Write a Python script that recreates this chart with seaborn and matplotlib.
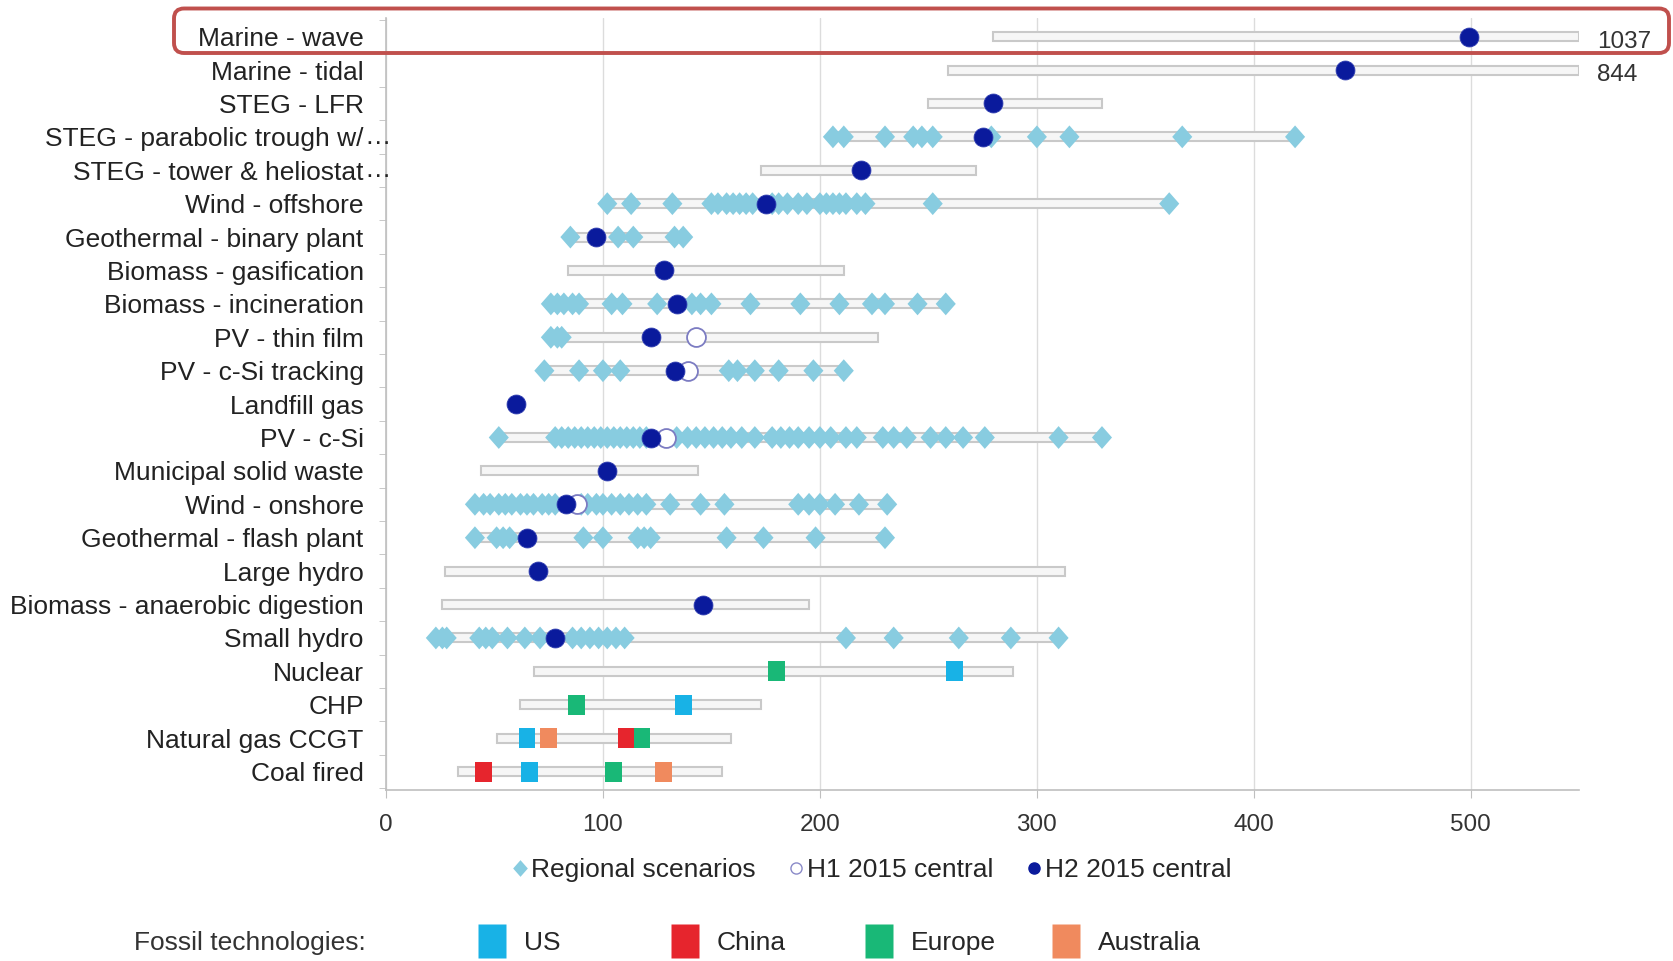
import numpy as np
import pandas as pd
import seaborn as sns
import matplotlib.pyplot as plt
from matplotlib.lines import Line2D
from matplotlib.path import Path
from matplotlib.patches import FancyBboxPatch

# technologies, top to bottom
tech = ["Marine - wave", "Marine - tidal", "STEG - LFR", "STEG - parabolic trough w/",
        "STEG - tower & heliostat", "Wind - offshore", "Geothermal - binary plant",
        "Biomass - gasification", "Biomass - incineration", "PV - thin film",
        "PV - c-Si tracking", "Landfill gas", "PV - c-Si", "Municipal solid waste",
        "Wind - onshore", "Geothermal - flash plant", "Large hydro",
        "Biomass - anaerobic digestion", "Small hydro", "Nuclear", "CHP",
        "Natural gas CCGT", "Coal fired"]
truncated = ["STEG - parabolic trough w/", "STEG - tower & heliostat"]

nan = np.nan
range_lo = [280, 259, 250, 206, 173, 102, 85, 84, 76, 76, 73, nan, 52, 44,
            41, 41, 27, 26, 23, 68, 62, 51, 33]
range_hi = [550, 550, 330, 419, 272, 361, 137, 211, 258, 227, 211, nan, 330, 144,
            231, 230, 313, 195, 310, 289, 173, 159, 155]
h2_central = [499, 442, 280, 275, 219, 175, 97, 128, 134, 122, 133, 60, 122, 102,
              83, 65, 70, 146, 78, nan, nan, nan, nan]

h1_tech = ["PV - thin film", "PV - c-Si tracking", "PV - c-Si", "Wind - onshore"]
h1_central = [143, 139, 129, 88]

offscale_tech = ["Marine - wave", "Marine - tidal"]
offscale_val = [1037, 844]

# regional scenarios
sc_parabolic = [206, 211, 230, 243, 247, 252, 279, 300, 315, 367, 419]
sc_offshore = [102, 113, 132, 150, 153, 157, 160, 163, 166, 169, 178, 181, 185, 190,
               194, 200, 203, 206, 209, 212, 217, 221, 252, 361]
sc_binary = [85, 107, 114, 133, 137]
sc_incineration = [76, 79, 82, 86, 89, 104, 109, 125, 141, 145, 150, 168, 191, 209,
                   224, 230, 245, 258]
sc_thinfilm = [76, 79, 81]
sc_csi_tracking = [73, 89, 100, 108, 158, 162, 170, 181, 197, 211]
sc_csi = [52, 78, 81, 84, 87, 90, 93, 96, 99, 102, 105, 108, 111, 114, 117, 120, 134,
          139, 143, 147, 151, 155, 159, 164, 170, 178, 182, 186, 190, 195, 200, 205,
          212, 217, 229, 234, 240, 251, 258, 266, 276, 310, 330]
sc_onshore = [41, 45, 48, 52, 55, 58, 62, 65, 68, 72, 75, 78, 90, 93, 97, 100, 104,
              108, 112, 116, 120, 131, 145, 156, 190, 195, 200, 207, 218, 231]
sc_flash = [41, 51, 54, 57, 91, 100, 116, 119, 122, 157, 174, 198, 230]
sc_small_hydro = [23, 26, 28, 43, 46, 49, 56, 64, 71, 86, 90, 94, 98, 102, 106, 110,
                  212, 234, 264, 288, 310]

# fossil technologies
fossil_tech = ["Nuclear", "Nuclear", "CHP", "CHP", "Natural gas CCGT", "Natural gas CCGT",
               "Natural gas CCGT", "Natural gas CCGT", "Coal fired", "Coal fired",
               "Coal fired", "Coal fired"]
fossil_region = ["Europe", "US", "Europe", "US", "US", "Australia", "China", "Europe",
                 "China", "US", "Europe", "Australia"]
fossil_val = [180, 262, 88, 137, 65, 75, 111, 118, 45, 66, 105, 128]

regions = ["US", "China", "Europe", "Australia"]
region_colors = {"US": "#18B2E6", "China": "#E6252D", "Europe": "#19B877", "Australia": "#F08A5E"}

pos = {t: i for i, t in enumerate(tech)}

scen = pd.concat([
    pd.DataFrame({"tech": t, "value": v}) for t, v in [
        (tech[3], sc_parabolic), (tech[5], sc_offshore), (tech[6], sc_binary),
        (tech[8], sc_incineration), (tech[9], sc_thinfilm), (tech[10], sc_csi_tracking),
        (tech[12], sc_csi), (tech[14], sc_onshore), (tech[15], sc_flash),
        (tech[18], sc_small_hydro)]
], ignore_index=True)
scen["y"] = scen["tech"].map(pos)

ranges = pd.DataFrame({"tech": tech, "lo": range_lo, "hi": range_hi, "h2": h2_central})
ranges["y"] = ranges["tech"].map(pos)
h1 = pd.DataFrame({"tech": h1_tech, "value": h1_central})
h1["y"] = h1["tech"].map(pos)
fossil = pd.DataFrame({"tech": fossil_tech, "region": fossil_region, "value": fossil_val})
fossil["y"] = fossil["tech"].map(pos)

sns.set_style("white")
plt.rcParams["font.family"] = ["Liberation Sans", "DejaVu Sans"]

diamond = Path([(0, 0.5), (0.44, 0), (0, -0.5), (-0.44, 0), (0, 0.5)])
rect = Path([(-0.42, -0.5), (0.42, -0.5), (0.42, 0.5), (-0.42, 0.5), (-0.42, -0.5)])

fig = plt.figure(figsize=(16.73, 9.61), dpi=100)
ax = fig.add_axes([0.2307, 0.178, 0.7133, 0.803])

rb = ranges.dropna(subset=["lo"])
ax.barh(rb["y"], rb["hi"] - rb["lo"], left=rb["lo"], height=0.27,
        color="#F6F6F6", edgecolor="#C9C9C9", linewidth=1.5, zorder=2)

sns.scatterplot(data=scen, x="value", y="y", marker=diamond, s=270, color="#88CCE0",
                edgecolor="none", ax=ax, zorder=3, legend=False)
sns.scatterplot(data=fossil, x="value", y="y", hue="region", palette=region_colors,
                marker=rect, s=210, edgecolor="none", ax=ax, zorder=3, legend=False)
sns.scatterplot(data=h1, x="value", y="y", marker="o", s=185, color="white",
                edgecolor="#7C7CC2", linewidth=1.3, ax=ax, zorder=4, legend=False)
sns.scatterplot(data=ranges.dropna(subset=["h2"]), x="h2", y="y", marker="o", s=185,
                color="#0A1A9C", edgecolor="#2E3CB0", linewidth=0.6, ax=ax, zorder=5,
                legend=False)

for t, v in zip(offscale_tech, offscale_val):
    ax.text(558, pos[t] + 0.15, str(v), fontsize=17.5, color="#333333",
            va="center", ha="left", clip_on=False)

# ellipsis of the truncated category labels hangs past the label column
for t in truncated:
    ax.text(-0.0185, pos[t], "\u2026", transform=ax.get_yaxis_transform(),
            fontsize=19, color="#222222", va="center", ha="left", clip_on=False)

ax.set_xlim(0, 550)
ax.set_ylim(len(tech) - 0.45, -0.55)
ax.set_xticks([0, 100, 200, 300, 400, 500])
ax.set_yticks(range(len(tech)))
ax.set_yticklabels(tech)
ax.set_yticks(np.arange(-0.5, len(tech), 1), minor=True)
ax.set_xlabel("")
ax.set_ylabel("")
ax.xaxis.grid(True, color="#DCDCDC", linewidth=1)
ax.set_axisbelow(True)
for side in ["top", "right"]:
    ax.spines[side].set_visible(False)
for side in ["left", "bottom"]:
    ax.spines[side].set_color("#BFBFBF")
    ax.spines[side].set_linewidth(1.2)
ax.tick_params(axis="y", which="major", length=0, pad=16, labelsize=19, labelcolor="#222222")
ax.tick_params(axis="y", which="minor", length=5, color="#BFBFBF", left=True)
ax.tick_params(axis="x", length=6, color="#BFBFBF", bottom=True, pad=11,
               labelsize=17.5, labelcolor="#333333")

# legend: markers
handles = [
    Line2D([], [], ls="", marker=diamond, markersize=12, color="#88CCE0", mec="none"),
    Line2D([], [], ls="", marker="o", markersize=8, mfc="white", mec="#8A8AC8"),
    Line2D([], [], ls="", marker="o", markersize=8, color="#0A1A9C"),
]
fig.legend(handles, ["Regional scenarios", "H1 2015 central", "H2 2015 central"],
           loc="center left", bbox_to_anchor=(0.3078, 0.0947), ncol=3, frameon=False,
           fontsize=19, handlelength=0.4, handletextpad=0.2, columnspacing=1.35,
           borderpad=0, borderaxespad=0)

# legend: fossil technologies
fig.text(0.0801, 0.0185, "Fossil technologies:", fontsize=19, color="#333333",
         va="center", ha="left")
for r, xl in zip(regions, [0.288, 0.403, 0.519, 0.631]):
    h = Line2D([], [], ls="", marker=rect, markersize=24, color=region_colors[r], mec="none")
    fig.legend([h], [r], loc="center left", bbox_to_anchor=(xl, 0.0185), frameon=False,
               fontsize=19, handlelength=0.8, handletextpad=0.8, borderpad=0,
               borderaxespad=0)

# highlight box around the top row
box = FancyBboxPatch((1.74, 9.08), 14.95, 0.445, boxstyle="round,pad=0,rounding_size=0.1",
                     transform=fig.dpi_scale_trans, fill=False, edgecolor="#C0504D",
                     linewidth=2.8, zorder=10)
fig.patches.append(box)

fig.savefig("out.png", dpi=100)
